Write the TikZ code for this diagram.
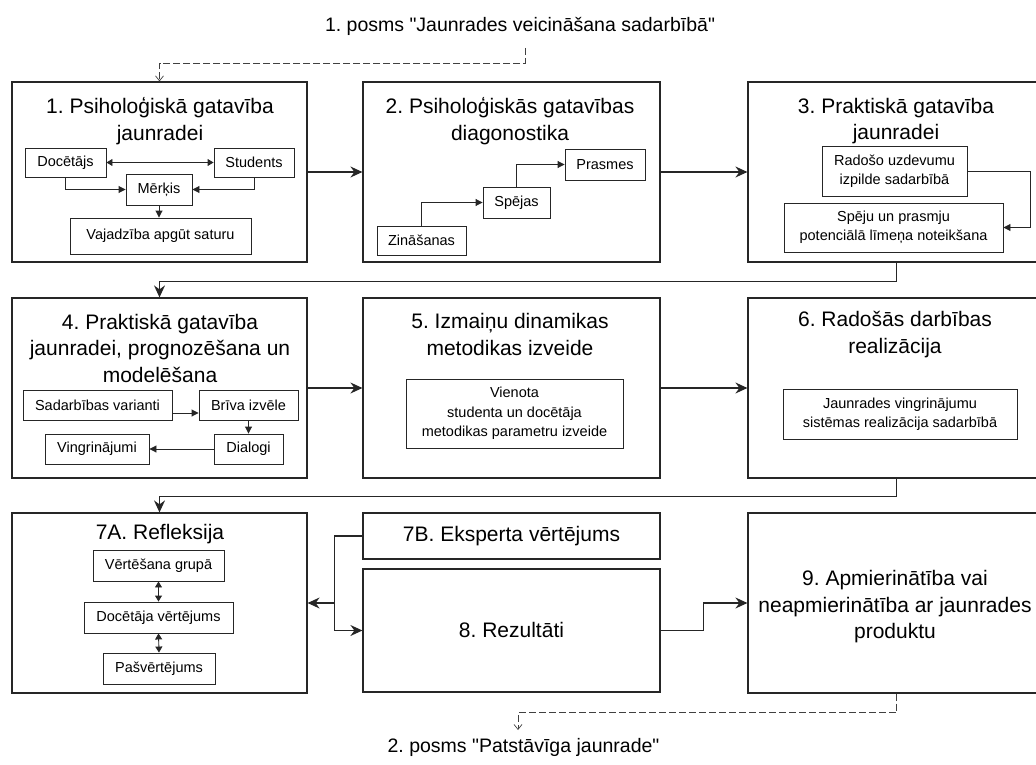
\documentclass[tikz,border=0pt]{standalone}
\usepackage{fontspec}
\setmainfont{Liberation Sans}
\newfontfamily\lsans{Liberation Sans}
\usetikzlibrary{arrows.meta,calc}
\frenchspacing
\begin{document}
\frenchspacing
\begin{tikzpicture}[x=1pt,y=-1pt,
  bigbox/.style={draw=black!85, line width=1.2pt, inner sep=0pt, minimum height=180pt},
  title/.style={align=center, inner sep=0pt, font=\fontsize{21}{26.5}\selectfont},
  smallbox/.style={draw=black!85, line width=0.9pt, inner sep=0pt, align=center, font=\fontsize{14.5}{18.5}\selectfont},
  mainarrow/.style={line width=1.2pt, draw=black!85, -{Stealth[length=12pt,width=11pt,inset=4pt]}},
  inarrow/.style={line width=0.9pt, draw=black!85, -{Triangle[length=7pt,width=7pt]}},
  biarrow/.style={line width=0.9pt, draw=black!85, {Triangle[length=6pt,width=7pt]}-{Triangle[length=6pt,width=7pt]}},
  dashline/.style={line width=0.9pt, draw=black!75, dash pattern=on 7pt off 3pt, -{Straight Barb[length=5pt,width=8pt,line width=0.7pt]}},
  poslabel/.style={anchor=base, inner sep=0pt, font=\lsans\fontsize{19.5}{24}\selectfont}
]
\useasboundingbox (0,0) rectangle (1036,765);
\clip (0,0) rectangle (1036,765);

% big boxes
\node[bigbox, minimum width=295pt] (b1) at (159.5,172) {};
\node[bigbox, minimum width=297pt] (b2) at (511.5,172) {};
\node[bigbox, minimum width=297pt] (b3) at (896.5,172) {};
\node[bigbox, minimum width=295pt] (b4) at (159.5,388) {};
\node[bigbox, minimum width=297pt] (b5) at (511.5,388) {};
\node[bigbox, minimum width=297pt] (b6) at (896.5,388) {};
\node[bigbox, minimum width=295pt] (b7a) at (159.5,603) {};
\node[bigbox, minimum width=297pt, minimum height=46pt] (b7b) at (511.5,536) {};
\node[bigbox, minimum width=297pt, minimum height=123pt] (b8) at (511.5,630.5) {};
\node[bigbox, minimum width=297pt] (b9) at (896.5,603) {};

% titles
\node[title] (t1) at (160,121) {1. Psiholoģiskā gatavība\\jaunradei};
\node[title] (t2) at (510,121) {2. Psiholoģiskās gatavības\\diagonostika};
\node[title] (t3) at (896,121) {3. Praktiskā gatavība\\jaunradei};
\node[title] (t4) at (160,348) {4. Praktiskā gatavība\\jaunradei, prognozēšana un\\modelēšana};
\node[title] (t5) at (510,334.5) {5. Izmaiņu dinamikas\\metodikas izveide};
\node[title] (t6) at (895,334.5) {6. Radošās darbības\\realizācija};
\node[title] (t7a) at (160,534) {7A. Refleksija};
\node[title] (t7b) at (511.5,536) {7B. Eksperta vērtējums};
\node[title] (t8) at (511.5,630) {8. Rezultāti};
\node[title] (t9) at (895,607) {9. Apmierinātība vai\\neapmierinātība ar jaunrades\\produktu};

% box 1 content
\node[smallbox, minimum width=81pt, minimum height=29pt] (doc) at (65.5,162.5) {Docētājs};
\node[smallbox, minimum width=80pt, minimum height=29pt] (stu) at (254,162.5) {Students};
\node[smallbox, minimum width=66pt, minimum height=31pt] (mer) at (159,189.5) {Mērķis};
\node[smallbox, minimum width=181pt, minimum height=36pt] (vaj) at (160.5,236) {Vajadzība apgūt saturu};
\draw[biarrow] (doc.east) -- (stu.west);
\draw[inarrow] (doc.south) |- (mer.west);
\draw[inarrow] (stu.south) |- (mer.east);
\draw[inarrow] (mer.south) -- (mer.south |- vaj.north);

% box 2 content
\node[smallbox, minimum width=80pt, minimum height=31pt] (pra) at (605,164.5) {Prasmes};
\node[smallbox, minimum width=67pt, minimum height=31pt] (spe) at (516.5,202.5) {Spējas};
\node[smallbox, minimum width=89pt, minimum height=29pt] (zin) at (421.5,240.5) {Zināšanas};
\draw[inarrow] (zin.north) |- (spe.west);
\draw[inarrow] (spe.north) |- (pra.west);

% box 3 content
\node[smallbox, minimum width=145pt, minimum height=50pt] (rad) at (894.5,171) {Radošo uzdevumu\\izpilde sadarbībā};
\node[smallbox, minimum width=219pt, minimum height=49pt] (spj) at (893.5,227.5) {Spēju un prasmju\\potenciālā līmeņa noteikšana};
\draw[inarrow] (rad.east) -- ++(63,0) |- (spj.east);

% box 4 content
\node[smallbox, minimum width=149pt, minimum height=30pt] (sad) at (97.5,405) {Sadarbības varianti};
\node[smallbox, minimum width=99pt, minimum height=30pt] (bri) at (248.5,405) {Brīva izvēle};
\node[smallbox, minimum width=69pt, minimum height=30pt] (dia) at (248.5,449) {Dialogi};
\node[smallbox, minimum width=104pt, minimum height=30pt] (vin) at (97,449) {Vingrinājumi};
\draw[inarrow] ([yshift=-8pt]sad.east) -- ([yshift=-8pt]bri.west);
\draw[inarrow] (bri.south) -- (dia.north);
\draw[inarrow] (dia.west) -- (vin.east);

% box 5 content
\node[smallbox, minimum width=217pt, minimum height=69pt, font=\fontsize{14.5}{19.5}\selectfont] (vie) at (514.5,413.5) {Vienota\\studenta un docētāja\\metodikas parametru izveide};

% box 6 content
\node[smallbox, minimum width=234pt, minimum height=50pt] (jau) at (900,414) {Jaunrades vingrinājumu\\sistēmas realizācija sadarbībā};

% box 7A content
\node[smallbox, minimum width=131pt, minimum height=31pt] (vg) at (158.5,565.5) {Vērtēšana grupā};
\node[smallbox, minimum width=149pt, minimum height=31pt] (dv) at (158.5,617.5) {Docētāja vērtējums};
\node[smallbox, minimum width=112pt, minimum height=31pt] (pv) at (159,668.5) {Pašvērtējums};
\draw[biarrow] (vg.south) -- (dv.north);
\draw[biarrow] (dv.south) -- (pv.north);

% main connectors
\draw[mainarrow] (b1.east) -- (b2.west);
\draw[mainarrow] (b2.east) -- (b3.west);
\draw[mainarrow] (b3.south) -- ++(0,19) -| (b4.north);
\draw[mainarrow] (b4.east) -- (b5.west);
\draw[mainarrow] (b5.east) -- (b6.west);
\draw[mainarrow] (b6.south) -- ++(0,18) -| (b7a.north);
\coordinate (jt) at ($(b7b.west)+(-28,0)$);
\draw[line width=1.2pt, draw=black!85] (b7b.west) -- (jt);
\draw[mainarrow] (jt) |- (b8.west);
\draw[mainarrow] (jt |- b7a.east) -- (b7a.east);
\draw[mainarrow] (b8.east) -- ++(43,0) |- (b9.west);

% stage labels
\node[poslabel] (l1) at (520,32) {1. posms "Jaunrades veicināšana sadarbībā"};
\node[poslabel] (l2) at (523.5,752) {2. posms "Patstāvīga jaunrade"};
\coordinate (ds) at (525,48);
\coordinate (de) at (518,730);
\draw[dashline] (ds) -- ++(0,15) -| (b1.north);
\draw[dashline] (b9.south) -- ++(0,19) -| (de);
\end{tikzpicture}
\end{document}
